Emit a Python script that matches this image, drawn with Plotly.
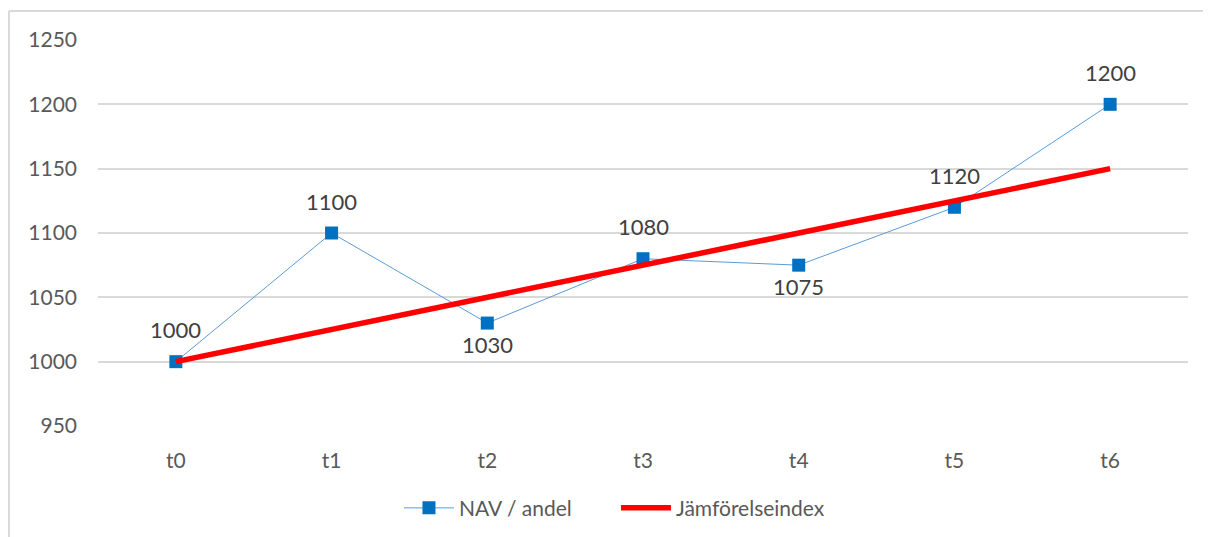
import plotly.graph_objects as go

categories = ["t0", "t1", "t2", "t3", "t4", "t5", "t6"]
nav_values = [1000, 1100, 1030, 1080, 1075, 1120, 1200]
index_values = [1000, 1025, 1050, 1075, 1100, 1125, 1150]
label_below = [False, False, True, False, True, False, False]
y_ticks = [950, 1000, 1050, 1100, 1150, 1200, 1250]

FONT = "Lato, 'Open Sans', sans-serif"
GRID = "#D9D9D9"
TXT = "#595959"

fig = go.Figure()
fig.add_trace(go.Scatter(
    x=categories, y=nav_values, name="NAV / andel", mode="lines+markers",
    line=dict(color="#5B9BD5", width=1),
    marker=dict(symbol="square", size=13, color="#0070C0", line=dict(color="#0070C0", width=0)),
))
fig.add_trace(go.Scatter(
    x=categories, y=index_values, name="Jämförelseindex", mode="lines",
    line=dict(color="#FF0000", width=5.5),
))

for c, v, below in zip(categories, nav_values, label_below):
    fig.add_annotation(x=c, y=v, text=str(v), showarrow=False,
                       yshift=-21 if below else 32,
                       font=dict(family=FONT, size=22, color="#404040"))

# outer chart border (top and left)
fig.add_shape(type="line", xref="paper", yref="paper", x0=-0.0817, x1=1.05, y0=1.0751, y1=1.0751,
              line=dict(color=GRID, width=2))
fig.add_shape(type="line", xref="paper", yref="paper", x0=-0.0817, x1=-0.0817, y0=1.0751, y1=-0.32,
              line=dict(color=GRID, width=2))

fig.update_layout(
    width=1203, height=529,
    margin=dict(l=90, r=23, t=32, b=111, autoexpand=False),
    paper_bgcolor="white", plot_bgcolor="white",
    font=dict(family=FONT, size=21, color=TXT),
    showlegend=True,
    legend=dict(orientation="h", x=0.4752, xanchor="center", y=-0.213, yanchor="middle",
                font=dict(family=FONT, size=21, color=TXT), itemwidth=50,
                entrywidth=152,
                traceorder="normal", bgcolor="rgba(0,0,0,0)"),
    xaxis=dict(type="category", range=[-0.5, 6.5], showgrid=False, zeroline=False,
               showline=False, ticks="", ticklabelstandoff=20, automargin=False,
               tickfont=dict(family=FONT, size=21, color=TXT)),
    yaxis=dict(range=[950, 1250], tickvals=y_ticks, showgrid=True, gridcolor=GRID, gridwidth=2,
               zeroline=False, showline=False, ticks="", ticklabelstandoff=20, automargin=False,
               tickfont=dict(family=FONT, size=21, color=TXT)),
)

fig.write_html("out.html")
